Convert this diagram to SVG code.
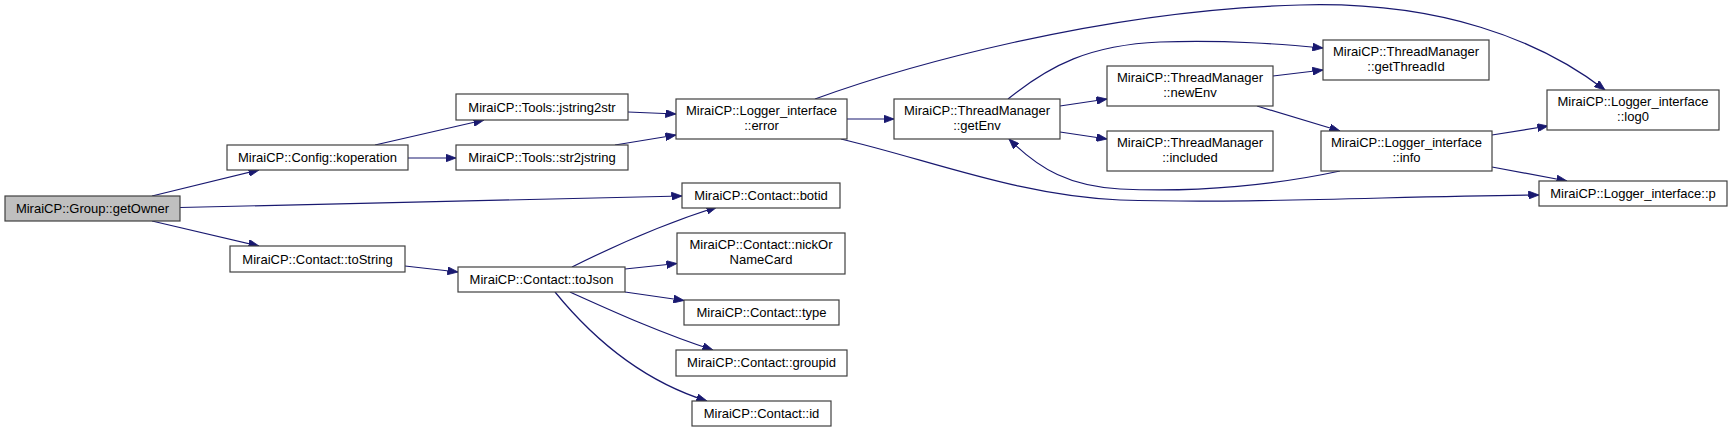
<svg xmlns="http://www.w3.org/2000/svg" width="1732" height="433" viewBox="0 0 1732 433">
<style>
.n rect{fill:#ffffff;stroke:#404040;stroke-width:1.2}
.n.h rect{fill:#bfbfbf}
.n text{font-family:"Liberation Sans",Arial,sans-serif;font-size:13px;fill:#000;text-anchor:middle}
.e path{fill:none;stroke:#191970;stroke-width:1.2;marker-end:url(#ah)}
</style>
<defs>
<marker id="ah" markerUnits="userSpaceOnUse" markerWidth="11" markerHeight="8" refX="10.5" refY="4" orient="auto">
<path d="M0,0 L10.5,4 L0,8 z" fill="#191970" stroke="#191970" stroke-width="0.8"/>
</marker>
</defs>
<rect width="1732" height="433" fill="#ffffff"/>
<g id="edges" class="e">
<path d="M152,196 L259,170"/>
<path d="M180,207.5 L682,196"/>
<path d="M152,221 L259,246"/>
<path d="M375,145 L484,120"/>
<path d="M408,158 L456,158"/>
<path d="M628,112 L676,114"/>
<path d="M615,145 L676,135"/>
<path d="M847,119 L894,119"/>
<path d="M815,99 C900,68 1100,10 1300,5 C1440,1 1540,40 1605,90"/>
<path d="M841,139 C930,160 1020,196 1120,200 C1250,204 1400,196 1539,195"/>
<path d="M1008,99 C1050,65 1090,45 1160,42 C1230,40 1280,44 1323,48"/>
<path d="M1060,106 L1107,99"/>
<path d="M1060,132 L1107,139"/>
<path d="M1273,76 L1323,70"/>
<path d="M1257,106 L1340,131"/>
<path d="M1340,171 C1280,184 1200,193 1120,189 C1070,186 1040,170 1009,139"/>
<path d="M1492,135 L1548,126"/>
<path d="M1492,167 L1567,181"/>
<path d="M405,266 L458,272"/>
<path d="M572,267 C610,248 660,225 717,207"/>
<path d="M625,269 L677,263.5"/>
<path d="M625,292 L684,300.5"/>
<path d="M570,292 C610,310 660,333 713,350"/>
<path d="M555,292 C590,335 640,380 707,401"/>
</g>
<g id="getOwner" class="n h"><rect x="5" y="196" width="175" height="25"/><text x="92.5" y="212.5">MiraiCP::Group::getOwner</text></g>
<g id="koperation" class="n"><rect x="227" y="145" width="181" height="25"/><text x="317.5" y="161.5">MiraiCP::Config::koperation</text></g>
<g id="toString" class="n"><rect x="230" y="246" width="175" height="26"/><text x="317.5" y="263.5">MiraiCP::Contact::toString</text></g>
<g id="jstring2str" class="n"><rect x="456" y="94" width="172" height="26"/><text x="542" y="111.5">MiraiCP::Tools::jstring2str</text></g>
<g id="str2jstring" class="n"><rect x="456" y="145" width="172" height="25"/><text x="542" y="161.5">MiraiCP::Tools::str2jstring</text></g>
<g id="error" class="n"><rect x="676" y="99" width="171" height="40"/><text x="761.5" y="115">MiraiCP::Logger_interface</text><text x="761.5" y="130">::error</text></g>
<g id="botid" class="n"><rect x="682" y="183" width="158" height="25"/><text x="761" y="199.5">MiraiCP::Contact::botid</text></g>
<g id="nickOrNameCard" class="n"><rect x="677" y="233" width="168" height="41"/><text x="761" y="249">MiraiCP::Contact::nickOr</text><text x="761" y="264">NameCard</text></g>
<g id="toJson" class="n"><rect x="458" y="267" width="167" height="25"/><text x="541.5" y="283.5">MiraiCP::Contact::toJson</text></g>
<g id="type" class="n"><rect x="684" y="300" width="155" height="25"/><text x="761.5" y="316.5">MiraiCP::Contact::type</text></g>
<g id="groupid" class="n"><rect x="676" y="350" width="171" height="26"/><text x="761.5" y="367">MiraiCP::Contact::groupid</text></g>
<g id="id" class="n"><rect x="692" y="401" width="139" height="25"/><text x="761.5" y="417.5">MiraiCP::Contact::id</text></g>
<g id="getEnv" class="n"><rect x="894" y="99" width="166" height="40"/><text x="977" y="115">MiraiCP::ThreadManager</text><text x="977" y="130">::getEnv</text></g>
<g id="newEnv" class="n"><rect x="1107" y="66" width="166" height="40"/><text x="1190" y="82">MiraiCP::ThreadManager</text><text x="1190" y="97">::newEnv</text></g>
<g id="included" class="n"><rect x="1107" y="131" width="166" height="40"/><text x="1190" y="147">MiraiCP::ThreadManager</text><text x="1190" y="162">::included</text></g>
<g id="getThreadId" class="n"><rect x="1323" y="40" width="166" height="40"/><text x="1406" y="56">MiraiCP::ThreadManager</text><text x="1406" y="71">::getThreadId</text></g>
<g id="info" class="n"><rect x="1321" y="131" width="171" height="40"/><text x="1406.5" y="147">MiraiCP::Logger_interface</text><text x="1406.5" y="162">::info</text></g>
<g id="log0" class="n"><rect x="1547" y="90" width="172" height="40"/><text x="1633" y="106">MiraiCP::Logger_interface</text><text x="1633" y="121">::log0</text></g>
<g id="p" class="n"><rect x="1539" y="181" width="188" height="25"/><text x="1633" y="197.5">MiraiCP::Logger_interface::p</text></g>
</svg>
